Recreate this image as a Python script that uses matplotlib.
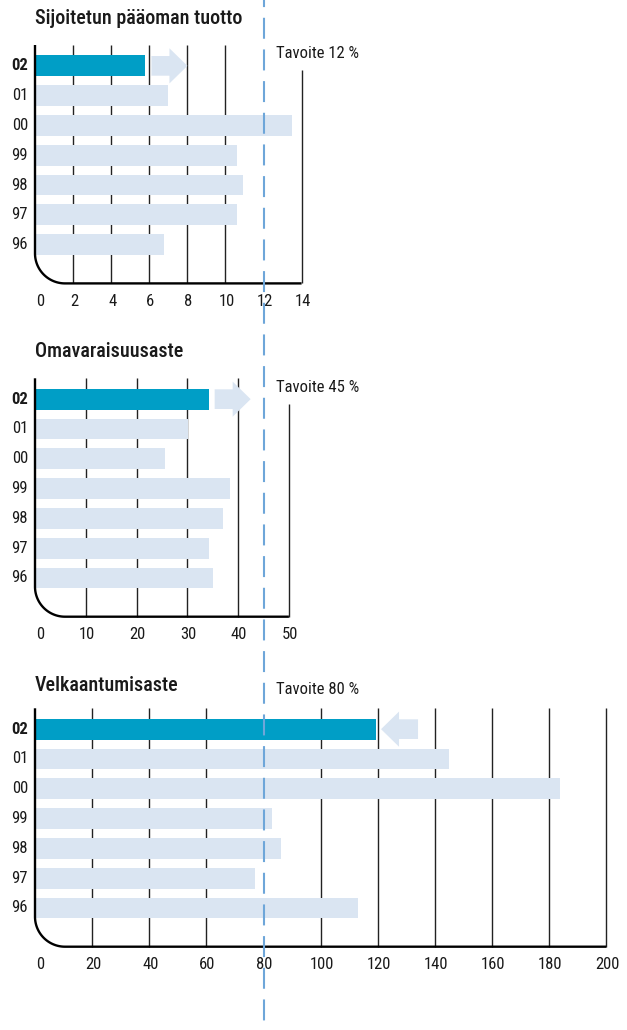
import numpy as np
import matplotlib
matplotlib.use('Agg')
import matplotlib.pyplot as plt
from matplotlib.patches import FancyArrow
from matplotlib.lines import Line2D

plt.rcParams['font.family'] = ['Roboto Condensed', 'DejaVu Sans Condensed', 'Roboto', 'DejaVu Sans']
plt.rcParams['lines.scale_dashes'] = False

# data
years = ['02', '01', '00', '99', '98', '97', '96']
roi = [5.8, 7.0, 13.5, 10.6, 10.9, 10.6, 6.8]
equity = [34.2, 30.1, 25.7, 38.5, 37.0, 34.2, 35.0]
gearing = [119.4, 144.9, 183.7, 83.0, 86.2, 77.1, 113.1]
roi_ticks = [0, 2, 4, 6, 8, 10, 12, 14]
equity_ticks = [0, 10, 20, 30, 40, 50]
gearing_ticks = [0, 20, 40, 60, 80, 100, 120, 140, 160, 180, 200]
titles = ['Sijoitetun pääoman tuotto', 'Omavaraisuusaste', 'Velkaantumisaste']
targets = [12, 45, 80]
goal_labels = ['Tavoite 12 %', 'Tavoite 45 %', 'Tavoite 80 %']

DARK = '#009ec6'
LIGHT = '#dae5f2'
DASH = '#6ea6d9'
TXT = '#1a1a1a'

W, H = 627, 1030
LEFT = 35
TARGET_PX = 263.5
ROW = 29.8
Y_TOP, Y_BOT = 6.7, -1.3

fig = plt.figure(figsize=(W / 100, H / 100), dpi=100)

panels = [
    dict(values=roi, ticks=roi_ticks, top=45, direction=1, title_dy=27, goal_dy=-8, short_last=True),
    dict(values=equity, ticks=equity_ticks, top=378.3, direction=1, title_dy=27, goal_dy=-9, short_last=True),
    dict(values=gearing, ticks=gearing_ticks, top=708.3, direction=-1, title_dy=23, goal_dy=19, short_last=False),
]

for i, p in enumerate(panels):
    target = targets[i]
    scale = (TARGET_PX - LEFT) / target
    ticks = p['ticks']
    xmax = ticks[-1]
    height = (Y_TOP - Y_BOT) * ROW
    ax = fig.add_axes([LEFT / W, 1 - (p['top'] + height) / H, xmax * scale / W, height / H])
    ax.set_xlim(0, xmax)
    ax.set_ylim(Y_BOT, Y_TOP)
    ax.axis('off')

    ypos = np.arange(len(years))[::-1]
    colors = [DARK] + [LIGHT] * (len(years) - 1)
    ax.barh(ypos, p['values'], height=0.7, color=colors, zorder=2)

    # grid lines
    for t in ticks[1:]:
        if t == target:
            continue
        top = 5.85 if (t == xmax and p['short_last']) else Y_TOP
        ax.vlines(t, Y_BOT, top, color='#222222', lw=1.0, zorder=1, clip_on=False)

    # left spine with rounded corner and bottom axis
    rx = 30 / scale
    ry = 30 / ROW
    th = np.linspace(np.pi, 1.5 * np.pi, 40)
    cx = rx + rx * np.cos(th)
    cy = Y_BOT + ry + ry * np.sin(th)
    xs = np.concatenate([[0], cx, [xmax]])
    ys = np.concatenate([[Y_TOP], cy, [Y_BOT]])
    ax.plot(xs, ys, color='black', lw=1.7, zorder=3, clip_on=False, solid_capstyle='butt')

    # arrow next to latest bar
    v = p['values'][0]
    if p['direction'] > 0:
        x0, dx = v + 6 / scale, 36 / scale
    else:
        x0, dx = v + 42 / scale, -37 / scale
    ax.add_patch(FancyArrow(x0, ypos[0], dx, 0, width=0.66, head_width=1.18,
                            head_length=18 / scale, length_includes_head=True,
                            color=LIGHT, lw=0, zorder=2, clip_on=False))

    # year labels
    for y, lab in zip(ypos, years):
        ax.annotate(lab, (0, y), xytext=(-7, 0), textcoords='offset pixels',
                    ha='right', va='center', fontsize=12, color=TXT,
                    fontweight='bold' if lab == '02' else 'normal', annotation_clip=False)

    # tick labels
    for t in ticks:
        ax.annotate(str(t), (t, Y_BOT), xytext=(5 if t == 0 else 1, -18), textcoords='offset pixels',
                    ha='center', va='center', fontsize=12, color=TXT, annotation_clip=False)

    ax.annotate(titles[i], (0, Y_TOP), xytext=(0, p['title_dy']), textcoords='offset pixels',
                ha='left', va='center', fontsize=14.5, fontweight='medium', color=TXT,
                annotation_clip=False)
    ax.annotate(goal_labels[i], (target, Y_TOP), xytext=(12, p['goal_dy']), textcoords='offset pixels',
                ha='left', va='center', fontsize=12, color=TXT, annotation_clip=False)

# target line across all panels
fig.add_artist(Line2D([TARGET_PX / W] * 2, [1, 0], transform=fig.transFigure, color=DASH,
                      lw=1.5, linestyle=(10, (15.1, 7.7)), zorder=10))

fig.savefig('out.png', dpi=100)
